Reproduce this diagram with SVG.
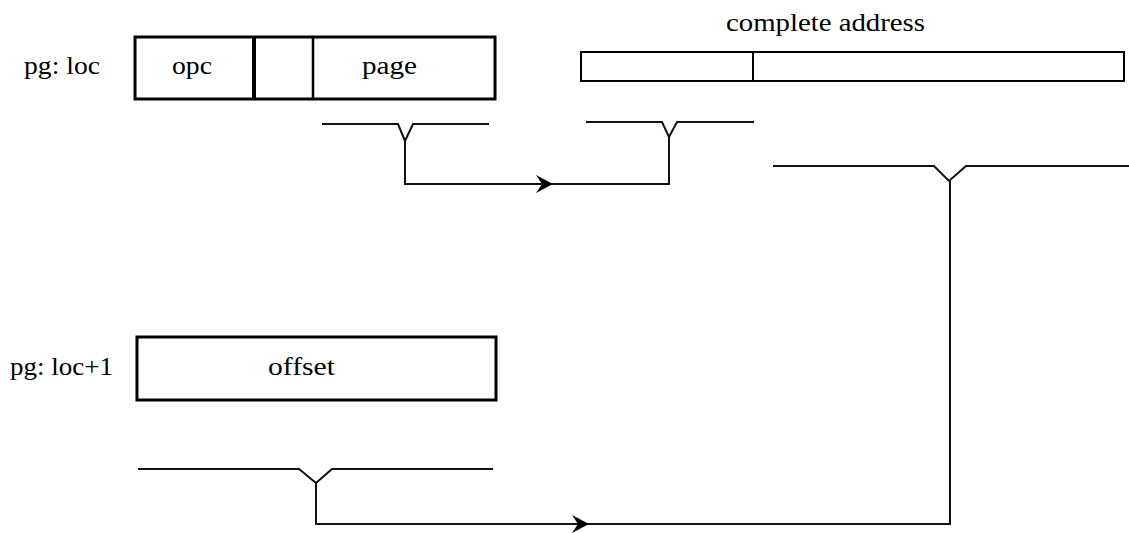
<svg xmlns="http://www.w3.org/2000/svg" width="1129" height="533" viewBox="0 0 1129 533">
<style>
  .lbl { font-family: "Liberation Serif", "Times New Roman", serif; font-size: 26px; fill: #000; }
  .thick { fill: none; stroke: #000; stroke-width: 3; }
  .thin { fill: none; stroke: #000; stroke-width: 2; }
  .wire { fill: none; stroke: #111; stroke-width: 2; stroke-linejoin: miter; }
</style>
<defs>
  <path id="arrowhead" d="M0,0 L-17,-9 L-11,0 L-17,9 Z" fill="#000"/>
</defs>
<rect width="1129" height="533" fill="#fff"/>

<g id="node-pg-loc">
  <text class="lbl" x="24" y="74" textLength="76" lengthAdjust="spacingAndGlyphs">pg: loc</text>
  <rect class="thick" x="135" y="37" width="360" height="62"/>
  <line x1="254" y1="37" x2="254" y2="99" stroke="#000" stroke-width="4"/>
  <line x1="313" y1="37" x2="313" y2="99" stroke="#000" stroke-width="2.5"/>
  <text class="lbl" x="192" y="74" text-anchor="middle" textLength="40" lengthAdjust="spacingAndGlyphs">opc</text>
  <text class="lbl" x="389.5" y="74" text-anchor="middle" textLength="55" lengthAdjust="spacingAndGlyphs">page</text>
</g>

<g id="node-complete-address">
  <text class="lbl" x="726" y="31" textLength="199" lengthAdjust="spacingAndGlyphs">complete address</text>
  <rect class="thin" x="581" y="52" width="543" height="29"/>
  <line x1="753" y1="52" x2="753" y2="81" stroke="#000" stroke-width="2"/>
</g>

<g id="node-pg-loc1">
  <text class="lbl" x="10" y="375" textLength="103" lengthAdjust="spacingAndGlyphs">pg: loc+1</text>
  <rect class="thick" x="137" y="337" width="359" height="63"/>
  <text class="lbl" x="268" y="375" textLength="67" lengthAdjust="spacingAndGlyphs">offset</text>
</g>

<g id="connectors">
  <polyline class="wire" points="322,124 398,124 405,141 413,124 489,124"/>
  <polyline class="wire" points="586,122 662,122 669,137 677,122 754,122"/>
  <polyline class="wire" points="773,166 934,166 949,181 966,166 1129,166"/>
  <polyline class="wire" points="138,469 299,469 316,483 332,469 493,469"/>

  <polyline class="wire" points="405,141 405,184 669,184 669,137"/>
  <use href="#arrowhead" x="553" y="184"/>

  <polyline class="wire" points="316,483 316,524 950,524 950,181"/>
  <use href="#arrowhead" x="589" y="524"/>
</g>
</svg>
